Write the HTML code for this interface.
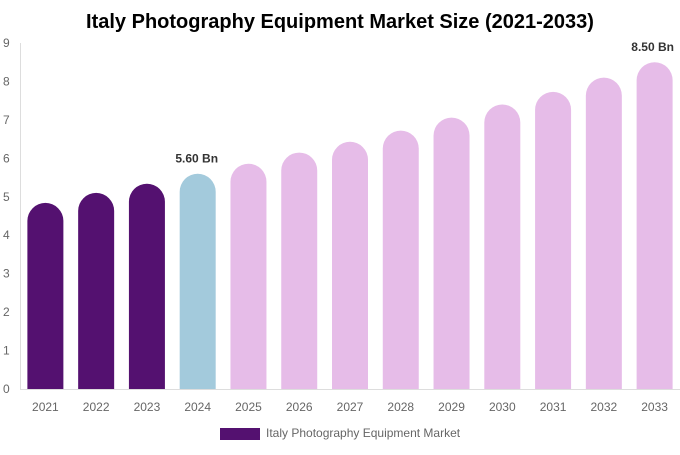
<!DOCTYPE html>
<html><head><meta charset="utf-8"><style>
body{margin:0;background:#fff;font-family:"Liberation Sans",sans-serif}
</style></head><body>
<svg id="c" width="680" height="450" xmlns="http://www.w3.org/2000/svg">
<text x="340" y="28" text-anchor="middle" font-size="20" font-weight="bold" fill="#000">Italy Photography Equipment Market Size (2021-2033)</text>
<line x1="20.5" y1="43" x2="20.5" y2="389.5" stroke="#ddd"/>
<line x1="20" y1="389.5" x2="680" y2="389.5" stroke="#ddd"/>
<g id="bars"></g>
<rect x="220" y="428" width="40" height="12" fill="#541170"/>
<text x="266" y="437" font-size="12" fill="#666">Italy Photography Equipment Market</text>
</svg>
<script>
const categories=["2021","2022","2023","2024","2025","2026","2027","2028","2029","2030","2031","2032","2033"];
const values=[4.84,5.1,5.34,5.6,5.86,6.15,6.43,6.72,7.06,7.4,7.73,8.1,8.5];
const colors=["#541170","#541170","#541170","#a3cadc","#e6bce8","#e6bce8","#e6bce8","#e6bce8","#e6bce8","#e6bce8","#e6bce8","#e6bce8","#e6bce8"];
const yTicks=[0,1,2,3,4,5,6,7,8,9];
const labels={3:"5.60 Bn",12:"8.50 Bn"};
const ns="http://www.w3.org/2000/svg";
const svg=document.getElementById('c'), g=document.getElementById('bars');
const y=v=>389-v*(346/9);
const band=660/categories.length;
const xc=i=>20+band*(i+0.5);
yTicks.forEach(t=>{
  const tx=document.createElementNS(ns,'text');
  tx.setAttribute('x',3);tx.setAttribute('y',y(t)+4);tx.setAttribute('font-size','12');tx.setAttribute('fill','#666');
  tx.textContent=t;
  
  
  svg.appendChild(tx);
});
categories.forEach((c,i)=>{
  const w=36,r=18,x0=xc(i)-w/2,top=y(values[i]),bot=389;
  const p=document.createElementNS(ns,'path');
  p.setAttribute('d',`M${x0},${bot}V${top+r}A${r},${r} 0 0 1 ${x0+w},${top+r}V${bot}Z`);
  p.setAttribute('fill',colors[i]);
  
  
  g.appendChild(p);
  const t=document.createElementNS(ns,'text');
  t.setAttribute('x',xc(i));t.setAttribute('y',411);t.setAttribute('text-anchor','middle');t.setAttribute('font-size','12');t.setAttribute('fill','#666');
  t.textContent=c;
  
  
  svg.appendChild(t);
  if(labels[i]){
    const l=document.createElementNS(ns,'text');
    l.setAttribute('x',xc(i)-(i==12?2:1));l.setAttribute('y',top-11);l.setAttribute('text-anchor','middle');l.setAttribute('font-size','12');l.setAttribute('font-weight','bold');l.setAttribute('fill','#333');
    l.textContent=labels[i];
    
    
    svg.appendChild(l);
  }
});
</script>
</body></html>
